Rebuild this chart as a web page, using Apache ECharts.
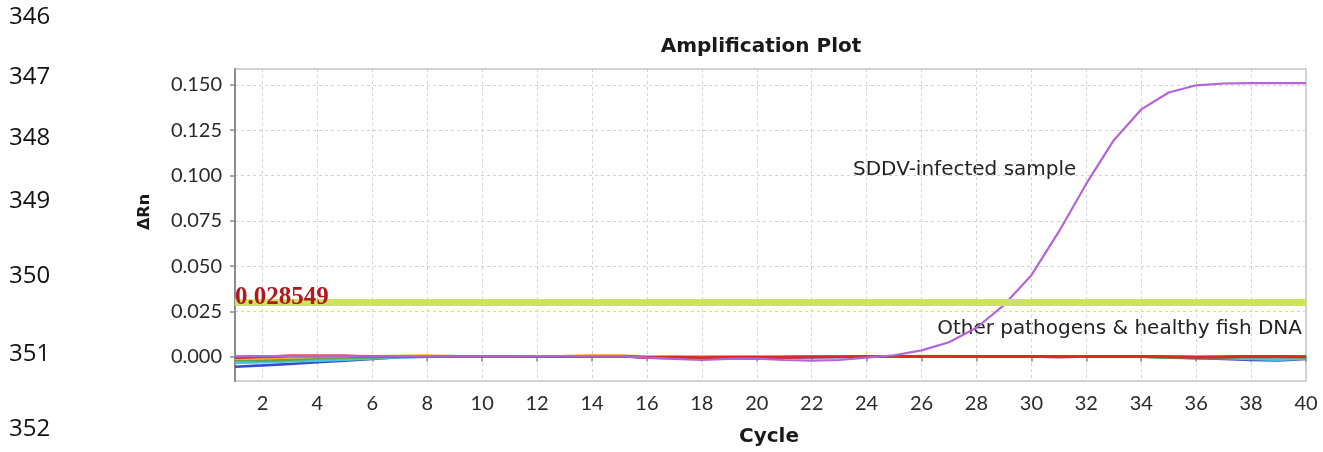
<!DOCTYPE html>
<html><head><meta charset="utf-8">
<script src="https://cdn.jsdelivr.net/npm/echarts@6/dist/echarts.min.js"></script>
<style>html,body{margin:0;padding:0;background:#fff}#c{width:1323px;height:452px}</style>
</head><body><div id="c"></div>
<script>
// ---- data ----
const CYCLES = [1,2,3,4,5,6,7,8,9,10,11,12,13,14,15,16,17,18,19,20,21,22,23,24,25,26,27,28,29,30,31,32,33,34,35,36,37,38,39,40];
const Y_TICKS = [0, 0.025, 0.05, 0.075, 0.1, 0.125, 0.15];
const Y_MIN = -0.0134;
const Y_MAX = 0.1588;
const THRESHOLD = 0.028549;
const TITLE = 'Amplification Plot';
const X_NAME = 'Cycle';
const Y_NAME = '\u0394Rn';
const LABEL_POSITIVE = 'SDDV-infected sample';
const LABEL_NEGATIVE = 'Other pathogens & healthy fish DNA';
const LINE_NUMBERS = ['346','347','348','349','350','351','352'];

// SDDV-infected sample
const SDDV = [0.0002,0.0003,0.0004,0.0004,0.0003,0.0002,0.0003,0.0003,0.0002,0.0002,0.0002,0.0003,0.0003,0.0004,0.0003,-0.0005,-0.0012,-0.0018,-0.0012,-0.0010,-0.0018,-0.0022,-0.0018,-0.0005,0.0008,0.0035,0.0080,0.0160,0.0285,0.0450,0.0690,0.0955,0.1195,0.1365,0.1458,0.1498,0.1508,0.1510,0.1510,0.1510];
// negative samples
const NEG_BLUE = [-0.0055,-0.0048,-0.0040,-0.0030,-0.0022,-0.0012,-0.0003,0,0,0,0,0,0,0.0003,0.0003,-0.0003,-0.0005,-0.0005,-0.0003,-0.0003,-0.0003,-0.0002,-0.0002,0,0,0,0,0,0,0,0.0002,0,0,0,-0.0003,-0.0008,-0.0012,-0.0018,-0.0020,-0.0012];
const NEG_CYAN = [-0.0035,-0.0030,-0.0026,-0.0022,-0.0016,-0.0010,-0.0003,0,0.0001,0,0,0.0001,0,0.0002,0.0002,-0.0002,-0.0003,-0.0004,-0.0002,-0.0002,-0.0002,-0.0001,0,0,0,0,0.0001,0,0,0,0,0,0,0,-0.0002,-0.0005,-0.0008,-0.0012,-0.0016,-0.0010];
const NEG_GREEN = [-0.0020,-0.0020,-0.0016,-0.0010,-0.0005,-0.0002,0,0.0001,0.0001,0.0001,0.0002,0.0003,0.0001,0.0002,0.0003,-0.0002,-0.0003,-0.0003,-0.0002,-0.0001,0,0,0.0001,0.0001,0.0002,0.0002,0.0002,0.0001,0.0001,0.0001,0.0001,0.0001,0.0001,0,-0.0005,-0.0008,-0.0006,-0.0003,-0.0003,-0.0005];
const NEG_ORANGE = [-0.0008,-0.0006,-0.0003,0,0.0002,0.0002,0.0003,0.0004,0.0002,0.0002,0.0002,0.0002,0.0003,0.0005,0.0005,0,-0.0001,0,0.0002,0.0002,0.0002,0.0002,0.0001,0.0002,0.0003,0.0003,0.0003,0.0002,0.0002,0.0002,0.0003,0.0002,0.0002,0.0002,0.0001,0,0.0001,0.0002,0.0002,0.0001];
const NEG_RED = [-0.0002,0.0001,0.0004,0.0004,0.0004,0.0002,0.0003,0.0003,0.0002,0.0002,0.0002,0.0002,0.0002,0.0003,0.0003,-0.0003,-0.0002,-0.0005,-0.0003,-0.0003,-0.0002,0,0,0.0001,0.0002,0.0002,0.0002,0.0002,0.0002,0.0002,0.0002,0.0002,0.0002,0.0002,0,-0.0002,0,0.0002,0.0001,0];
const NEG_CRIMSON = [-0.0005,0,0.0005,0.0005,0.0005,0,0.0003,0.0003,0.0002,0.0002,0.0002,0.0002,0.0002,0.0003,0.0003,-0.0005,-0.0008,-0.0008,-0.0005,-0.0004,-0.0004,-0.0002,0,0.0001,0.0001,0.0002,0.0002,0.0002,0.0003,0.0001,-0.0002,0.0001,0.0002,0.0001,-0.0001,-0.0003,-0.0002,0.0003,0.0002,0];
const NEG_YELLOW = [-0.0010,-0.0008,-0.0004,0,0.0002,0.0003,0.0005,0.0006,0.0004,0.0003,0.0003,0.0003,0.0004,0.0006,0.0006,0.0002,0.0001,0.0002,0.0003,0.0003,0.0003,0.0003,0.0002,0.0003,0.0003,0.0004,0.0004,0.0003,0.0003,0.0003,0.0003,0.0003,0.0003,0.0003,0.0002,0.0001,0.0002,0.0003,0.0003,0.0002];

const NEGATIVES = [
  {name:'neg-blue', data:NEG_BLUE, color:'#3a4cc0'},
  {name:'neg-cyan', data:NEG_CYAN, color:'#48c4e8'},
  {name:'neg-green', data:NEG_GREEN, color:'#5aa84a'},
  {name:'neg-yellow', data:NEG_YELLOW, color:'#f2cf4a'},
  {name:'neg-orange', data:NEG_ORANGE, color:'#ee9a2a'},
  {name:'neg-crimson', data:NEG_CRIMSON, color:'#cf1f6e'},
  {name:'neg-red', data:NEG_RED, color:'#dd2a1e'}
];

const isEven = (i, v) => Number(v) % 2 === 0;
const TICK_FONT = 'Lato';

const chart = echarts.init(document.getElementById('c'), null, {renderer:'canvas'});
const series = [];
series.push({
  name:'threshold', type:'line', data:[], silent:true, z:1,
  markLine:{
    silent:true, symbol:['none','none'], animation:false,
    lineStyle:{color:'#cde35a', width:7, type:'solid'},
    label:{show:true, position:'insideStartTop', formatter:String(THRESHOLD), color:'#b3161e',
      fontFamily:'Liberation Serif', fontWeight:'bold', fontSize:25, distance:[0,-8]},
    data:[{yAxis:THRESHOLD}]
  }
});
NEGATIVES.forEach(n => series.push({
  name:n.name, type:'line', data:n.data, showSymbol:false, symbol:'none', z:2,
  lineStyle:{color:n.color, width:2.6}
}));
series.push({
  name:LABEL_POSITIVE, type:'line', data:SDDV, showSymbol:false, symbol:'none', z:3,
  lineStyle:{color:'#b464d6', width:2.2}
});

const graphics = [
  {type:'text', x:761, y:47, style:{text:TITLE, font:'bold 20px "DejaVu Sans"', fill:'#1a1a1a', align:'center', verticalAlign:'middle'}},
  {type:'text', x:769, y:437, style:{text:X_NAME, font:'bold 20px "DejaVu Sans"', fill:'#1a1a1a', align:'center', verticalAlign:'middle'}},
  {type:'text', x:145, y:212, rotation:Math.PI/2, style:{text:Y_NAME, font:'bold 16px "DejaVu Sans"', fill:'#1a1a1a', align:'center', verticalAlign:'middle'}},
  {type:'text', x:853, y:170, style:{text:LABEL_POSITIVE, font:'20px "DejaVu Sans"', fill:'#222', align:'left', verticalAlign:'middle'}},
  {type:'text', x:1302, y:329, style:{text:LABEL_NEGATIVE, font:'20px "DejaVu Sans"', fill:'#222', align:'right', verticalAlign:'middle'}}
];
const LINE_Y = [17, 77, 138, 201, 276, 354, 429];
LINE_NUMBERS.forEach((t, i) => graphics.push({type:'text', x:9, y:LINE_Y[i], style:{text:t, font:'24px "Open Sans"', fill:'#111', align:'left', verticalAlign:'middle'}}));

chart.setOption({
  animation:false,
  backgroundColor:'#fff',
  grid:{left:235, right:17, top:69, bottom:71, show:true, borderColor:'#c4c4c4', borderWidth:1.5, containLabel:false},
  xAxis:{
    type:'category', data:CYCLES, boundaryGap:false,
    axisLine:{lineStyle:{color:'#8c8c8c', width:2}},
    axisTick:{show:true, interval:isEven, length:5, lineStyle:{color:'#8c8c8c', width:1.5}},
    axisLabel:{interval:isEven, margin:13, color:'#2a2a2a', fontFamily:TICK_FONT, fontSize:20},
    splitLine:{show:true, interval:isEven, lineStyle:{color:'#d2d2d2', type:[3,3], width:1}}
  },
  yAxis:{
    type:'value', min:Y_MIN, max:Y_MAX,
    axisLine:{show:true, lineStyle:{color:'#8c8c8c', width:2}},
    axisTick:{show:true, customValues:Y_TICKS, length:5, lineStyle:{color:'#8c8c8c', width:1.5}},
    axisLabel:{customValues:Y_TICKS, margin:13, color:'#2a2a2a', fontFamily:TICK_FONT, fontSize:20, formatter:v=>v.toFixed(3)},
    splitLine:{show:true, lineStyle:{color:'#d2d2d2', type:[3,3], width:1}}
  },
  graphic:graphics,
  series:series
});
</script></body></html>
